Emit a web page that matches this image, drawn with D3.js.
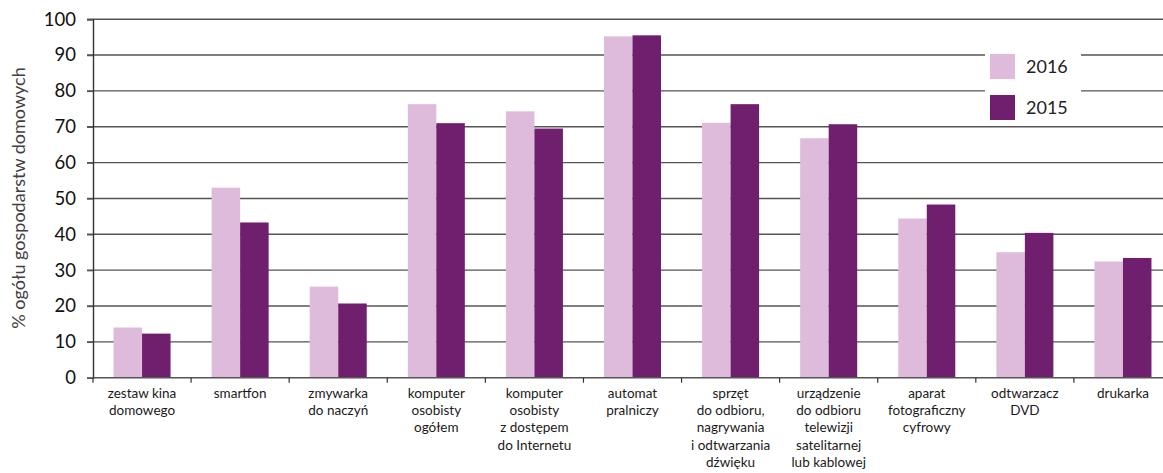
<!DOCTYPE html>
<html>
<head>
<meta charset="utf-8">
<script src="https://cdn.jsdelivr.net/npm/d3@7"></script>
<style>
  body { margin: 0; background: #fff; }
  svg { display: block; font-family: Lato, "Open Sans", sans-serif; }
</style>
</head>
<body>
<div id="chart"></div>
<script>
var categories = [
    ["zestaw kina", "domowego"],
    ["smartfon"],
    ["zmywarka", "do naczyń"],
    ["komputer", "osobisty", "ogółem"],
    ["komputer", "osobisty", "z dostępem", "do Internetu"],
    ["automat", "pralniczy"],
    ["sprzęt", "do odbioru,", "nagrywania", "i odtwarzania", "dźwięku"],
    ["urządzenie", "do odbioru", "telewizji", "satelitarnej", "lub kablowej"],
    ["aparat", "fotograficzny", "cyfrowy"],
    ["odtwarzacz", "DVD"],
    ["drukarka"]
];
var values2016 = [14, 53, 25.4, 76.3, 74.3, 95.2, 71.1, 66.8, 44.4, 35, 32.4];
var values2015 = [12.3, 43.3, 20.7, 71, 69.5, 95.5, 76.3, 70.7, 48.3, 40.4, 33.4];
var seriesNames = ["2016", "2015"];
var yTicks = [0, 10, 20, 30, 40, 50, 60, 70, 80, 90, 100];

var w = 1163, h = 473;
var colors = { "2016": "#dfbbdb", "2015": "#701e6e" };

var svg = d3.select("#chart").append("svg")
    .attr("width", w)
    .attr("height", h);

var x = d3.scaleBand()
    .domain(d3.range(categories.length))
    .range([93, 1172])
    .padding(0);

var inner = d3.scaleBand()
    .domain(seriesNames)
    .range([0, x.bandwidth()])
    .paddingInner(0)
    .paddingOuter(0.72);

var y = d3.scaleLinear()
    .domain([0, 100])
    .range([377.7, 19.2]);

// gridlines
svg.append("g")
    .selectAll("line")
    .data(yTicks.slice(1))
    .enter()
    .append("line")
    .attr("x1", 87)
    .attr("x2", w)
    .attr("y1", function(d) { return y(d); })
    .attr("y2", function(d) { return y(d); })
    .attr("stroke", "#555")
    .attr("stroke-width", 1.4);

// y axis
var yAxis = svg.append("g")
    .attr("transform", "translate(93,0)")
    .call(d3.axisLeft(y).tickValues(yTicks).tickSize(6).tickPadding(11));
yAxis.select(".domain").attr("stroke", "#333").attr("stroke-width", 1.4);
yAxis.selectAll(".tick line").attr("stroke", "#555").attr("stroke-width", 1.4);
yAxis.selectAll(".tick text")
    .attr("font-size", "18.5px")
    .attr("fill", "#111")
    .attr("font-family", "Lato, 'Open Sans', sans-serif");

// bars
var rows = categories.map(function(c, i) {
    return [
        { s: "2016", i: i, v: values2016[i] },
        { s: "2015", i: i, v: values2015[i] }
    ];
});

svg.append("g")
    .selectAll("g")
    .data(rows)
    .enter()
    .append("g")
    .attr("transform", function(d, i) { return "translate(" + x(i) + ",0)"; })
    .selectAll("rect")
    .data(function(d) { return d; })
    .enter()
    .append("rect")
    .attr("x", function(d) { return inner(d.s); })
    .attr("width", inner.bandwidth())
    .attr("y", function(d) { return y(d.v); })
    .attr("height", function(d) { return y(0) - y(d.v); })
    .attr("fill", function(d) { return colors[d.s]; });

// x axis
var xAxis = svg.append("g")
    .attr("transform", "translate(0," + y(0) + ")");
xAxis.append("line")
    .attr("x1", 93).attr("x2", w)
    .attr("stroke", "#555").attr("stroke-width", 1.4);
xAxis.selectAll(".xt")
    .data(d3.range(categories.length + 1))
    .enter()
    .append("line")
    .attr("x1", function(d) { return 93 + d * x.step(); })
    .attr("x2", function(d) { return 93 + d * x.step(); })
    .attr("y1", 0).attr("y2", 5)
    .attr("stroke", "#333").attr("stroke-width", 1.2);

var labels = svg.append("g")
    .selectAll("text")
    .data(categories)
    .enter()
    .append("text")
    .attr("text-anchor", "middle")
    .attr("font-size", "13.5px")
    .attr("fill", "#1a1a1a")
    .attr("y", 397.5);
labels.selectAll("tspan")
    .data(function(d, i) { return d.map(function(t) { return { t: t, i: i }; }); })
    .enter()
    .append("tspan")
    .attr("x", function(d) { return x(d.i) + x.bandwidth() / 2; })
    .attr("dy", function(d, j) { return j === 0 ? 0 : 17.4; })
    .text(function(d) { return d.t; });

// y title
svg.append("text")
    .attr("transform", "translate(25,198) rotate(-90)")
    .attr("text-anchor", "middle")
    .attr("font-size", "18px")
    .attr("fill", "#404040")
    .text("% ogółu gospodarstw domowych");

// legend
var legend = svg.append("g");
legend.append("rect")
    .attr("x", 985).attr("y", 46)
    .attr("width", 96).attr("height", 78)
    .attr("fill", "#fff");
var items = legend.selectAll(".item")
    .data(seriesNames)
    .enter()
    .append("g")
    .attr("transform", function(d, i) { return "translate(990," + (54 + i * 41) + ")"; });
items.append("rect")
    .attr("width", 25).attr("height", 25)
    .attr("fill", function(d) { return colors[d]; });
items.append("text")
    .attr("x", 36).attr("y", 19)
    .attr("font-size", "18px")
    .attr("fill", "#222")
    .text(function(d) { return d; });
</script>
</body>
</html>
